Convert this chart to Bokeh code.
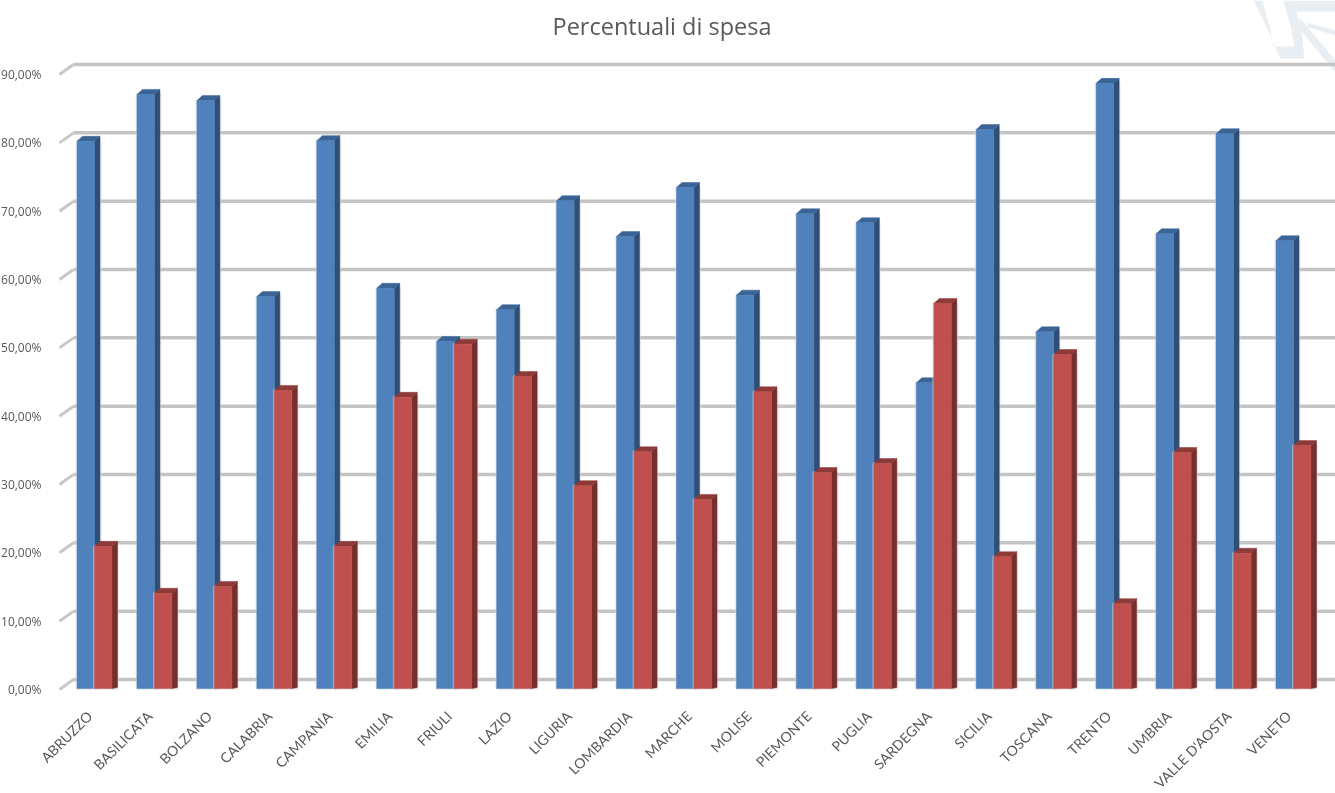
from math import pi
from bokeh.plotting import figure
from bokeh.models import Range1d, LinearAxis, FixedTicker, PolyAnnotation, Label
from bokeh.embed import file_html
from bokeh.resources import INLINE

regions = ["ABRUZZO","BASILICATA","BOLZANO","CALABRIA","CAMPANIA","EMILIA","FRIULI","LAZIO","LIGURIA","LOMBARDIA","MARCHE","MOLISE","PIEMONTE","PUGLIA","SARDEGNA","SICILIA","TOSCANA","TRENTO","UMBRIA","VALLE D'AOSTA","VENETO"]
blue_values = [79.3,86.1,85.2,56.8,79.4,58.0,50.3,54.9,70.7,65.5,72.6,57.0,68.8,67.5,44.3,81.0,51.7,87.7,65.9,80.4,64.9]
red_values = [20.6,13.8,14.8,43.2,20.6,42.2,49.9,45.2,29.4,34.3,27.4,43.0,31.3,32.6,55.8,19.1,48.4,12.3,34.2,19.6,35.2]
y_ticks = [0,10,20,30,40,50,60,70,80,90]
y_labels = ["0,00%","10,00%","20,00%","30,00%","40,00%","50,00%","60,00%","70,00%","80,00%","90,00%"]

W, H = 1335, 793
F_L, F_T, F_B = 58, 0, 695            # frame edges in window pixels
HIDDEN = 22                           # spare axis room left of the window
HIDDEN_B = 24                         # spare axis room below the window
STEP = 59.95
ORIGIN = 94.0                         # pixel of category 0 boundary
SCALE_BAR = 6.9
SCALE_AX = 6.833
ZERO_BAR, ZERO_AX = 688, 689
LABEL_SHIFT = -5 / STEP

x0 = (F_L - ORIGIN) / STEP
x1 = (W - ORIGIN) / STEP

p = figure(width=W + HIDDEN, height=H + HIDDEN_B, output_backend="svg", toolbar_location=None,
           x_range=Range1d(x0, x1),
           y_range=Range1d((ZERO_BAR - F_B) / SCALE_BAR, (ZERO_BAR - F_T) / SCALE_BAR),
           x_axis_location="below", y_axis_location=None,
           min_border_left=F_L + HIDDEN, min_border_right=0, min_border_top=F_T,
           min_border_bottom=H + HIDDEN_B - F_B,
           background_fill_color="white", border_fill_color="white", outline_line_color=None)
p.styles = {"position": "fixed", "left": f"-{HIDDEN}px", "top": "0"}
p.grid.visible = False
p.extra_y_ranges = {"axis": Range1d((ZERO_AX - F_B) / SCALE_AX, (ZERO_AX - F_T) / SCALE_AX)}

# title
p.add_layout(Label(text="Percentuali di spesa", x=552 - F_L, y=F_B - 25,
                   x_units="screen", y_units="screen", text_baseline="middle", text_align="left",
                   text_font="Open Sans", text_font_size="23.5px", text_color="#595959"))

# faint watermark top right (window pixels, converted to the annotation's frame-based coordinates)
WM = "#e8eef2"
for xs, ys in [
    ([1253,1262,1270,1273,1300,1300,1283,1280,1272,1264], [0,0,30,46,46,58,58,58,40,22]),
    ([1283,1293,1301,1304,1296,1290], [0,0,30,58,58,25]),
    ([1291,1335,1335,1294], [0,0,11,11]),
    ([1300,1335,1335,1297], [18,60,72,26]),
    ([1305,1335,1335,1308], [22,30,35,27]),
]:
    p.add_layout(PolyAnnotation(xs=[x - F_L for x in xs], ys=[F_B - y for y in ys],
                                xs_units="screen", ys_units="screen",
                                fill_color=WM, fill_alpha=1, line_color=None, level="underlay"))

# gridlines with perspective stubs, on the axis range
DY = 10 / SCALE_AX
gx0 = x0 + 15 / STEP
p.segment(x0=[x0 + 1 / STEP] * len(y_ticks), x1=[gx0] * len(y_ticks), y0=y_ticks,
          y1=[t + DY for t in y_ticks], y_range_name="axis",
          line_color="#c8c8c8", line_width=3)
p.segment(x0=[gx0] * len(y_ticks), x1=[x1] * len(y_ticks), y0=[t + DY for t in y_ticks],
          y1=[t + DY for t in y_ticks], y_range_name="axis",
          line_color="#c4c4c4", line_width=3.5)

# pseudo 3D bars
HALF = 17.5 / STEP
DX = 5.5 / STEP
DZ = 5 / SCALE_BAR

def bars(values, left_off, right_off, front, side, top):
    idx = list(range(len(values)))
    lefts = [i + left_off for i in idx]
    rights = [i + right_off for i in idx]
    p.quad(left=lefts, right=[r + DX for r in rights], bottom=[0] * len(idx),
           top=values, fill_color="#dcdcdc", fill_alpha=0.5,
           line_color="#dcdcdc", line_alpha=0.5, line_width=3)
    p.patches(xs=[[r, r + DX, r + DX, r] for r in rights],
              ys=[[0, DZ * 0.2, v + DZ, v] for v in values],
              fill_color=side, line_color=side, line_width=0.5)
    p.patches(xs=[[l, l + DX, r + DX, r] for l, r in zip(lefts, rights)],
              ys=[[v, v + DZ, v + DZ, v] for v in values],
              fill_color=top, line_color=top, line_width=0.5)
    p.quad(left=lefts, right=rights, bottom=[0] * len(idx), top=values,
           fill_color=front, line_color=front, line_width=0.5)

bars(blue_values, -HALF, 0, "#4f81bd", "#2f4f76", "#3b6496")
bars(red_values, 0, HALF, "#c0504d", "#772f2d", "#8e3a38")

# axes
x_ticks = [i + LABEL_SHIFT for i in range(len(regions))]
xa = p.xaxis[0]
xa.ticker = FixedTicker(ticks=x_ticks)
xa.major_label_overrides = dict(zip(x_ticks, regions))
xa.major_label_orientation = pi / 4
xa.major_label_text_font = "Lato"
xa.major_label_text_font_size = "14px"
xa.major_label_text_color = "#595959"
xa.major_label_standoff = 18
xa.major_tick_out = 0
xa.major_tick_in = 0
xa.axis_line_color = None
xa.major_tick_line_color = None
xa.minor_tick_line_color = None

ya = LinearAxis(y_range_name="axis", ticker=FixedTicker(ticks=y_ticks))
ya.major_label_overrides = dict(zip(y_ticks, y_labels))
ya.major_label_text_font = "Open Sans"
ya.major_label_text_font_size = "12px"
ya.major_label_text_color = "#595959"
ya.major_label_standoff = 17
ya.major_tick_out = 0
ya.major_tick_in = 0
ya.axis_line_color = None
ya.major_tick_line_color = None
ya.minor_tick_line_color = None
p.add_layout(ya, "left")

open("out.html", "w").write(file_html(p, INLINE))
